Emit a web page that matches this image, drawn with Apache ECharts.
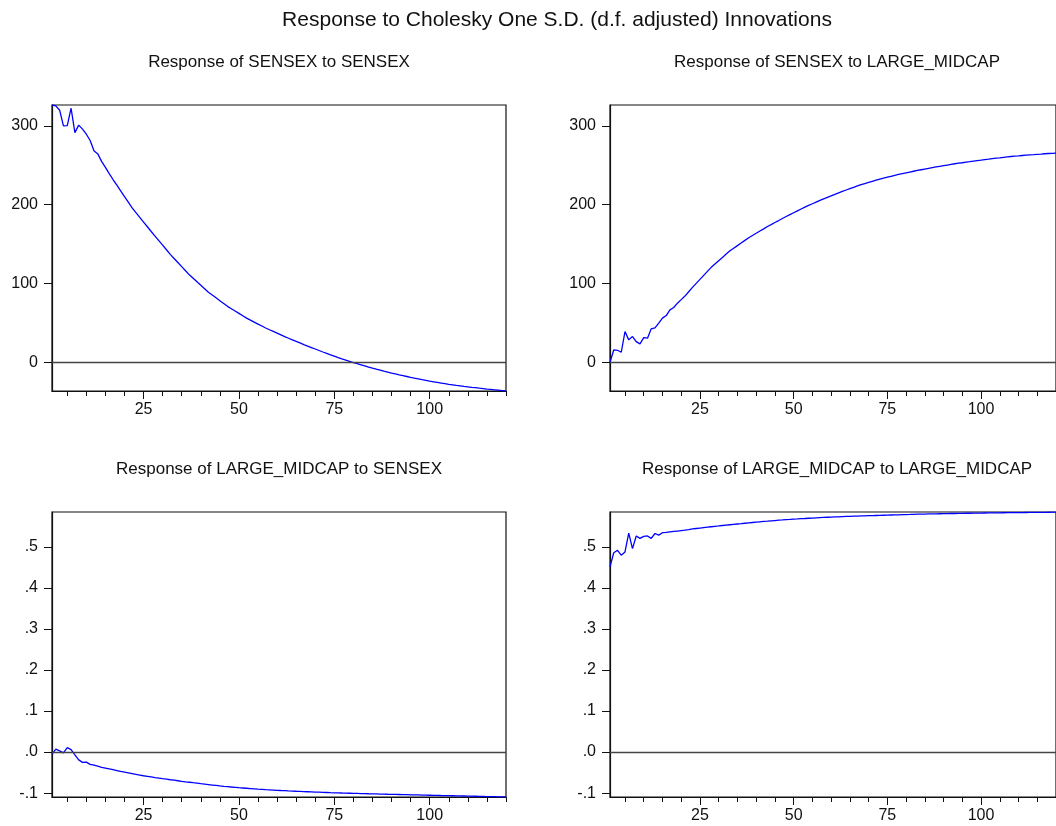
<!DOCTYPE html>
<html>
<head>
<meta charset="utf-8">
<script src="https://cdn.jsdelivr.net/npm/echarts@6/dist/echarts.min.js"></script>
<style>
html,body{margin:0;padding:0;background:#fff;}
#chart{width:1056px;height:826px;}
</style>
</head>
<body>
<div id="chart"></div>
<script>
// ---- DATA ----
const periods = [1,2,3,4,5,6,7,8,9,10,11,12,13,14,15,16,17,18,19,20,21,22,23,24,25,26,27,28,29,30,31,32,33,34,35,36,37,38,39,40,41,42,43,44,45,46,47,48,49,50,51,52,53,54,55,56,57,58,59,60,61,62,63,64,65,66,67,68,69,70,71,72,73,74,75,76,77,78,79,80,81,82,83,84,85,86,87,88,89,90,91,92,93,94,95,96,97,98,99,100,101,102,103,104,105,106,107,108,109,110,111,112,113,114,115,116,117,118,119,120];

const mainTitle = 'Response to Cholesky One S.D. (d.f. adjusted) Innovations';
const panelTitles = ['Response of SENSEX to SENSEX','Response of SENSEX to LARGE_MIDCAP','Response of LARGE_MIDCAP to SENSEX','Response of LARGE_MIDCAP to LARGE_MIDCAP'];

const sensexToSensex = [326.6,325.5,320,300,300.5,322.5,291.5,301,296,289.5,281.5,268.5,264.5,255,247.5,239.5,232,224.8,217.6,210.4,203.2,196,190,184,178,172,166,160.2,154.4,148.6,142.8,137,131.8,126.6,121.4,116.2,111,106.6,102.2,97.8,93.4,89,85.4,81.8,78.2,74.6,71,68,65,62,59,56,53.5,51,48.5,46,43.5,41.3,39.1,36.9,34.7,32.5,30.5,28.5,26.5,24.5,22.5,20.6,18.7,16.8,14.9,13,11.3,9.5,7.8,6.0,4.3,2.7,1.1,-0.5,-1.9,-3.3,-4.7,-6.1,-7.5,-8.8,-10.0,-11.3,-12.5,-13.8,-14.9,-16.0,-17.0,-18.1,-19.2,-20.2,-21.1,-22.1,-23.0,-24.0,-24.8,-25.6,-26.4,-27.2,-28.0,-28.6,-29.3,-29.9,-30.6,-31.2,-31.8,-32.3,-32.9,-33.4,-34.0,-34.5,-35.0,-35.5,-36.0,-36.5];

const sensexToLargeMidcap = [0,15.6,15.2,12.7,39,28.4,32.6,26.2,23.3,31.3,30.5,42.4,43.6,49.6,56,59.3,66.5,69.5,75,79.5,84,89.5,95,100.1,105.2,110.3,115.4,120.5,124.7,128.9,133.1,137.3,141.5,144.8,148.1,151.4,154.7,158,160.9,163.7,166.6,169.4,172.3,174.8,177.4,179.9,182.5,185,187.4,189.8,192.2,194.6,197,199.1,201.2,203.3,205.4,207.5,209.4,211.3,213.2,215.1,217,218.7,220.4,222.1,223.8,225.5,226.9,228.3,229.7,231.1,232.5,233.7,234.9,236.1,237.3,238.5,239.5,240.5,241.5,242.5,243.5,244.4,245.3,246.2,247.1,248,248.8,249.6,250.4,251.2,252,252.7,253.3,254,254.6,255.3,256,256.6,257.3,257.9,258.6,259.1,259.6,260.2,260.7,261.2,261.6,262,262.5,262.9,263.3,263.6,264,264.3,264.7,265,265.3,265.6];

const largeMidcapToSensex = [-0.005,0.007,0.003,-0.002,0.011,0.006,-0.007,-0.019,-0.025,-0.0245,-0.030,-0.032,-0.0345,-0.037,-0.039,-0.041,-0.043,-0.045,-0.047,-0.0487,-0.0505,-0.0523,-0.0541,-0.0559,-0.0577,-0.0591,-0.0605,-0.0620,-0.0634,-0.0648,-0.0661,-0.0674,-0.0686,-0.0699,-0.0712,-0.0724,-0.0735,-0.0747,-0.0758,-0.0770,-0.0781,-0.0792,-0.0803,-0.0814,-0.0825,-0.0834,-0.0842,-0.0851,-0.0859,-0.0868,-0.0875,-0.0882,-0.0889,-0.0896,-0.0903,-0.0909,-0.0915,-0.0920,-0.0926,-0.0932,-0.0937,-0.0941,-0.0946,-0.0950,-0.0955,-0.0959,-0.0963,-0.0967,-0.0971,-0.0975,-0.0978,-0.0982,-0.0985,-0.0989,-0.0992,-0.0995,-0.0998,-0.1000,-0.1003,-0.1006,-0.1008,-0.1011,-0.1013,-0.1016,-0.1018,-0.1020,-0.1023,-0.1025,-0.1028,-0.1030,-0.1032,-0.1034,-0.1037,-0.1039,-0.1041,-0.1043,-0.1045,-0.1048,-0.1050,-0.1052,-0.1054,-0.1056,-0.1059,-0.1061,-0.1063,-0.1065,-0.1067,-0.1069,-0.1071,-0.1073,-0.1075,-0.1077,-0.1080,-0.1082,-0.1084,-0.1086,-0.1088,-0.1091,-0.1093,-0.1095];

const largeMidcapToLargeMidcap = [0.452,0.486,0.492,0.480,0.488,0.534,0.496,0.527,0.521,0.526,0.527,0.521,0.533,0.529,0.535,0.5355,0.537,0.538,0.539,0.540,0.541,0.5425,0.5441,0.5452,0.5463,0.5474,0.5484,0.5494,0.5504,0.5514,0.5525,0.5534,0.5543,0.5552,0.5561,0.5570,0.5580,0.5589,0.5598,0.5607,0.5615,0.5623,0.5630,0.5638,0.5646,0.5654,0.5661,0.5669,0.5674,0.5680,0.5685,0.5691,0.5696,0.5702,0.5707,0.5713,0.5718,0.5722,0.5726,0.5729,0.5733,0.5737,0.5741,0.5745,0.5748,0.5752,0.5755,0.5758,0.5761,0.5764,0.5766,0.5769,0.5772,0.5775,0.5778,0.5781,0.5783,0.5786,0.5789,0.5792,0.5794,0.5797,0.5800,0.5802,0.5804,0.5806,0.5808,0.5809,0.5811,0.5813,0.5815,0.5817,0.5818,0.5820,0.5821,0.5823,0.5824,0.5826,0.5827,0.5829,0.5830,0.5831,0.5832,0.5833,0.5834,0.5836,0.5837,0.5838,0.5839,0.5840,0.5841,0.5842,0.5843,0.5844,0.5845,0.5846,0.5847,0.5848,0.5849,0.5850];

const xMajorTicks = [25,50,75,100];
const xMinorTicks = [5,10,15,20,25,30,35,40,45,50,55,60,65,70,75,80,85,90,95,100,105,110,115,120];
const yTicksTop = [0,100,200,300];
const yTicksBottom = [-0.1,0,0.1,0.2,0.3,0.4,0.5];
const yRangeTop = [-36.5,326.6];
const yRangeBottom = [-0.1095,0.5854];

// ---- CHART ----
const FONT = 'Liberation Sans, Arial, sans-serif';
const grids = [
  {left:52, top:105, width:454, height:286},
  {left:610, top:105, width:454, height:286},
  {left:52, top:512, width:454, height:285},
  {left:610, top:512, width:454, height:285}
];
const seriesData = [sensexToSensex, sensexToLargeMidcap, largeMidcapToSensex, largeMidcapToLargeMidcap];

function fmtBottom(v){
  const r = Math.round(v*10)/10;
  if (r === 0) return '.0';
  const s = r.toFixed(1);
  return s.replace('0.', '.');
}

const option = {
  animation:false,
  backgroundColor:'#fff',
  grid: grids.map(g => Object.assign({show:true, borderColor:'#111', borderWidth:1.2, backgroundColor:'transparent', containLabel:false}, g)),
  xAxis: [],
  yAxis: [],
  series: [],
  graphic: []
};

for (let i=0;i<4;i++){
  // major axis with labels
  option.xAxis.push({
    type:'value', gridIndex:i, min:1, max:120, position:'bottom',
    axisLine:{show:true, onZero:false, lineStyle:{color:'#111', width:1.2}},
    axisTick:{show:true, length:8, customValues:xMajorTicks, lineStyle:{color:'#111', width:1}},
    axisLabel:{show:true, customValues:xMajorTicks, margin:11, fontSize:16, fontFamily:FONT, color:'#111'},
    splitLine:{show:false}
  });
  // minor ticks axis
  option.xAxis.push({
    type:'value', gridIndex:i, min:1, max:120, position:'bottom',
    axisLine:{show:false, onZero:false},
    axisTick:{show:true, length:5, customValues:xMinorTicks, lineStyle:{color:'#111', width:1}},
    axisLabel:{show:false},
    splitLine:{show:false}
  });
  const top = i < 2;
  const ticks = top ? yTicksTop : yTicksBottom;
  const range = top ? yRangeTop : yRangeBottom;
  option.yAxis.push({
    type:'value', gridIndex:i, min:range[0], max:range[1], position:'left',
    axisLine:{show:true, onZero:false, lineStyle:{color:'#111', width:1.2}},
    axisTick:{show:true, length:8, customValues:ticks, lineStyle:{color:'#111', width:1}},
    axisLabel:{show:true, customValues:ticks, margin:14, fontSize:16, fontFamily:FONT, color:'#111',
      formatter: top ? (v => String(Math.round(v))) : fmtBottom},
    splitLine:{show:false}
  });
  option.series.push({
    type:'line', xAxisIndex:i*2, yAxisIndex:i,
    data: periods.map((p,k) => [p, seriesData[i][k]]),
    showSymbol:false, symbol:'none',
    lineStyle:{color:'#0000ff', width:1.3},
    markLine:{
      silent:true, symbol:['none','none'], label:{show:false},
      lineStyle:{color:'#444', width:1.3, type:'solid'},
      data:[{yAxis:0}]
    },
    z:3
  });
  const g = grids[i];
  option.graphic.push({
    type:'text', x:g.left + g.width/2, y: top ? 62 : 469,
    style:{text:panelTitles[i], align:'center', verticalAlign:'middle', font:'17px ' + FONT, fill:'#111'}
  });
}
option.graphic.push({
  type:'text', x:557, y:20,
  style:{text:mainTitle, align:'center', verticalAlign:'middle', font:'21px ' + FONT, fill:'#111'}
});

const chart = echarts.init(document.getElementById('chart'), null, {renderer:'canvas'});
chart.setOption(option);
</script>
</body>
</html>
